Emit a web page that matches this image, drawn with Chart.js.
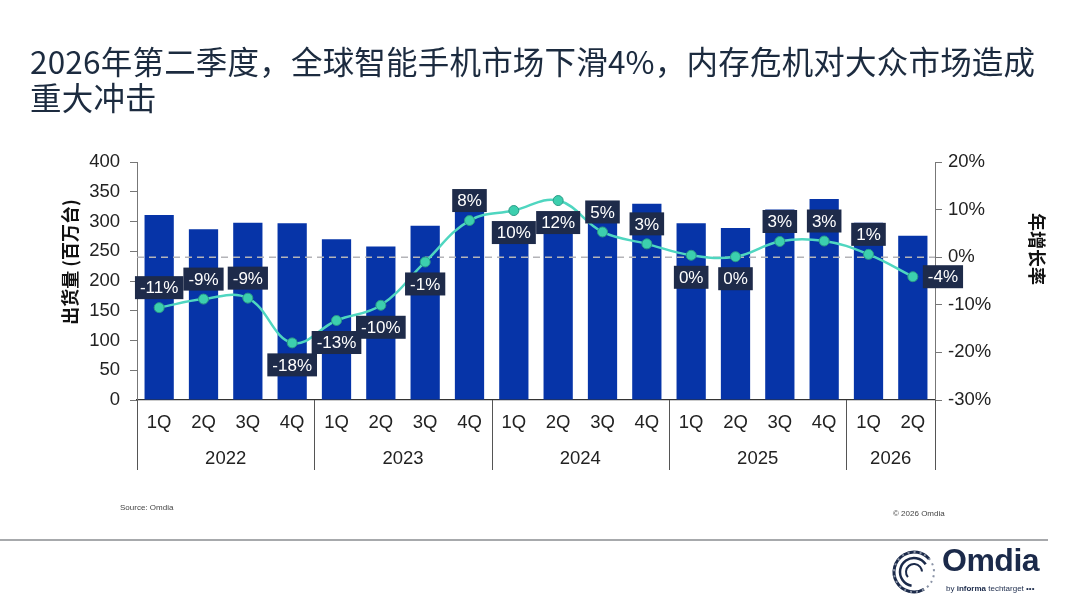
<!DOCTYPE html>
<html>
<head>
<meta charset="utf-8">
<script src="https://cdn.jsdelivr.net/npm/chart.js@4"></script>
<style>
  html, body { margin: 0; padding: 0; background: #fff; }
  #wrap { position: relative; width: 1080px; height: 608px; overflow: hidden; }
  #chart { position: absolute; left: 0; top: 0; }
  .title { position: absolute; left: 30px; top: 42px; font: 31.5px "Noto Sans CJK SC", sans-serif; line-height: 36px; color: #1c2b3f; letter-spacing: 0.2px; }
  .src { position: absolute; left: 120px; top: 503px; font: 8px "Liberation Sans", Arial, sans-serif; color: #444; }
  .copy { position: absolute; left: 893px; top: 509px; font: 8px "Liberation Sans", Arial, sans-serif; color: #444; }
  .rule { position: absolute; left: 0; top: 539px; width: 1048px; height: 2px; background: #a7a9ac; }
  .logo { position: absolute; left: 890px; top: 548px; width: 160px; height: 50px; }
  .logo .name { position: absolute; left: 52px; top: -6px; font: bold 32px "Liberation Sans", Arial, sans-serif; color: #1b2a4a; letter-spacing: -0.5px; }
  .logo .by { position: absolute; left: 56px; top: 36px; font: 8px "Liberation Sans", Arial, sans-serif; color: #1b2a4a; }
</style>
</head>
<body>
<div id="wrap">
  <canvas id="chart" width="1080" height="608"></canvas>
  <div class="title">2026年第二季度，全球智能手机市场下滑4%，内存危机对大众市场造成<br>重大冲击</div>
  <div class="src">Source: Omdia</div>
  <div class="copy">© 2026 Omdia</div>
  <div class="rule"></div>
  <div class="logo">
    <svg width="50" height="50" viewBox="0 0 50 50">
      <circle cx="24" cy="24" r="20" fill="none" stroke="#1b2a4a" stroke-width="3" stroke-dasharray="90 40" transform="rotate(60 24 24)"/>
      <circle cx="24" cy="24" r="14" fill="none" stroke="#1b2a4a" stroke-width="2.5" stroke-dasharray="55 33" transform="rotate(100 24 24)"/>
      <circle cx="24" cy="24" r="8" fill="none" stroke="#1b2a4a" stroke-width="2" stroke-dasharray="30 20" transform="rotate(140 24 24)"/>
      <circle cx="24" cy="24" r="20" fill="none" stroke="#8a93a6" stroke-width="2" stroke-dasharray="2 4" transform="rotate(-60 24 24)"/>
    </svg>
    <div class="name">Omdia</div>
    <div class="by">by <b>informa</b> techtarget •••</div>
  </div>
</div>
<script>
// 季度 / 年份
const quarters = ['1Q', '2Q', '3Q', '4Q', '1Q', '2Q', '3Q', '4Q', '1Q', '2Q', '3Q', '4Q', '1Q', '2Q', '3Q', '4Q', '1Q', '2Q'];
const years = ['2022', '2023', '2024', '2025', '2026'];
const quartersPerYear = [4, 4, 4, 4, 2];

// 出货量 (百万台)
const shipments = [311, 287, 298, 297, 270, 258, 293, 320, 296, 289, 310, 330, 297, 289, 320, 338, 298, 276];
// 年增长率 (%)
const growth = [-10.6, -8.8, -8.6, -18, -13.3, -10.1, -1, 7.7, 9.8, 11.9, 5.3, 2.8, 0.4, 0.1, 3.3, 3.4, 0.6, -4.1];
// 数据标签位置
const labelPlace = ['above', 'above', 'above', 'below', 'below', 'below', 'below', 'above', 'below', 'below',
  'above', 'above', 'below', 'below', 'above', 'above', 'above', 'right'];

const tickFont = { family: '"Liberation Sans", Arial, sans-serif', size: 18.5 };
const AREA = { left: 137, right: 935, top: 162, bottom: 400 };

const overlay = {
  id: 'overlay',
  afterDatasetDraw(chart, args) {
    if (args.index !== 0) return;
    // 0% 虚线
    const ctx = chart.ctx;
    const y0 = chart.scales.y1.getPixelForValue(0);
    ctx.save();
    ctx.strokeStyle = '#b4b4b8';
    ctx.lineWidth = 1.5;
    ctx.setLineDash([7, 5]);
    ctx.beginPath();
    ctx.moveTo(chart.chartArea.left, y0);
    ctx.lineTo(chart.chartArea.right, y0);
    ctx.stroke();
    ctx.restore();
  },
  afterDraw(chart) {
    const ctx = chart.ctx;
    const x = chart.scales.x;
    const area = chart.chartArea;

    // 年份分组
    ctx.save();
    ctx.strokeStyle = '#555';
    ctx.lineWidth = 1;
    ctx.fillStyle = '#222';
    ctx.font = '18.5px "Liberation Sans", Arial, sans-serif';
    ctx.textAlign = 'center';
    ctx.textBaseline = 'middle';
    const step = x.getPixelForValue(1) - x.getPixelForValue(0);
    let start = 0;
    const edges = [x.getPixelForValue(0) - step / 2];
    years.forEach((yr, i) => {
      const n = quartersPerYear[i];
      const a = x.getPixelForValue(start) - step / 2;
      const b = x.getPixelForValue(start + n - 1) + step / 2;
      edges.push(b);
      ctx.fillText(yr, (a + b) / 2, 459);
      start += n;
    });
    edges.forEach((ex) => {
      const px = Math.round(ex) + 0.5;
      ctx.beginPath();
      ctx.moveTo(px, area.bottom);
      ctx.lineTo(px, 470);
      ctx.stroke();
    });

    // 轴标题
    ctx.font = 'bold 18px "Noto Sans CJK SC", sans-serif';
    ctx.fillStyle = '#111';
    ctx.save();
    ctx.translate(70, 262);
    ctx.rotate(-Math.PI / 2);
    ctx.fillText('出货量 (百万台)', 0, 0);
    ctx.restore();
    ctx.save();
    ctx.translate(1037, 249);
    ctx.rotate(Math.PI / 2);
    ctx.fillText('年增长率', 0, 0);
    ctx.restore();

    // 数据标签
    const meta = chart.getDatasetMeta(1);
    ctx.font = '17px "Liberation Sans", Arial, sans-serif';
    meta.data.forEach((pt, i) => {
      const txt = Math.round(growth[i]) + '%';
      const w = ctx.measureText(txt).width + 10;
      const h = 23;
      let cx = pt.x, cy = pt.y;
      if (labelPlace[i] === 'above') cy = pt.y - 20;
      else if (labelPlace[i] === 'below') cy = pt.y + 22;
      else cx = pt.x + w / 2 + 10;
      ctx.fillStyle = '#1e2b4a';
      ctx.fillRect(cx - w / 2, cy - h / 2, w, h);
      ctx.fillStyle = '#ffffff';
      ctx.fillText(txt, cx, cy + 1);
    });
    ctx.restore();
  }
};

new Chart(document.getElementById('chart'), {
  data: {
    labels: quarters,
    datasets: [
      {
        type: 'bar',
        data: shipments,
        yAxisID: 'y',
        backgroundColor: '#0634a8',
        barPercentage: 0.66,
        categoryPercentage: 1,
        order: 2
      },
      {
        type: 'line',
        data: growth,
        yAxisID: 'y1',
        borderColor: '#4fd6c0',
        borderWidth: 2.5,
        tension: 0.4,
        pointRadius: 5,
        pointBackgroundColor: '#3ccfae',
        pointBorderColor: '#2a9a86',
        pointBorderWidth: 1,
        order: 1
      }
    ]
  },
  options: {
    responsive: false,
    animation: false,
    layout: { padding: { top: AREA.top, bottom: 0, left: 0, right: 0 } },
    plugins: { legend: { display: false }, tooltip: { enabled: false } },
    scales: {
      x: {
        grid: { display: false, drawTicks: false },
        border: { color: '#333', width: 1.2 },
        ticks: { color: '#222', font: tickFont, padding: 12, maxRotation: 0 },
        afterFit: (s) => { s.height = 608 - AREA.bottom; }
      },
      y: {
        position: 'left',
        min: 0, max: 400,
        ticks: { stepSize: 50, color: '#222', font: tickFont, padding: 10 },
        grid: { drawOnChartArea: false, tickLength: 7, color: '#777' },
        border: { color: '#777', width: 1 },
        afterFit: (s) => { s.width = AREA.left; }
      },
      y1: {
        position: 'right',
        min: -30, max: 20,
        ticks: { stepSize: 10, color: '#222', font: tickFont, padding: 6, callback: (v) => v + '%' },
        grid: { drawOnChartArea: false, tickLength: 7, color: '#777' },
        border: { color: '#777', width: 1 },
        afterFit: (s) => { s.width = 1080 - AREA.right; }
      }
    }
  },
  plugins: [overlay]
});
</script>
</body>
</html>
